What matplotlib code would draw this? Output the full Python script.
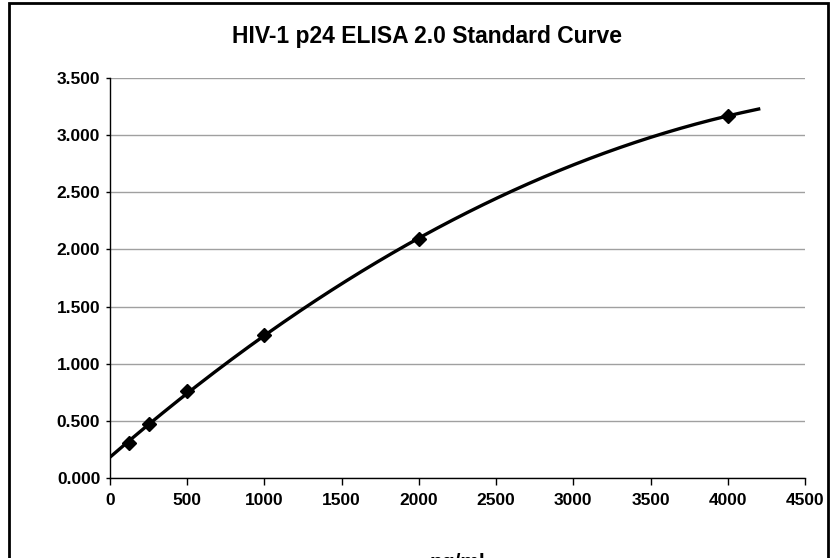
import numpy as np
import matplotlib
matplotlib.use('Agg')
import matplotlib.pyplot as plt
from matplotlib.patches import Rectangle

plt.rcParams['font.family'] = ['Liberation Sans', 'DejaVu Sans']

conc = [125, 250, 500, 1000, 2000, 4000]   # pg/ml
od = [0.31, 0.47, 0.76, 1.25, 2.09, 3.17]
x_ticks = [0, 500, 1000, 1500, 2000, 2500, 3000, 3500, 4000, 4500]
y_ticks = [0.0, 0.5, 1.0, 1.5, 2.0, 2.5, 3.0, 3.5]

# polynomial trendline (order 2) like the spreadsheet one, forecast forward a bit
coef = np.polyfit(conc, od, 2)
xs = np.linspace(0, 4200, 300)
ys = np.polyval(coef, xs)

fig = plt.figure(figsize=(8.36, 5.58), dpi=100)
ax = fig.add_axes([110/836, 1 - 478/558, 695/836, 400/558])

ax.plot(xs, ys, color='black', lw=2.4, zorder=3)
ax.plot(conc, od, 'D', color='black', markersize=7.5, zorder=4)

ax.set_xlim(0, 4500)
ax.set_ylim(0, 3.5)
ax.set_xticks(x_ticks)
ax.set_yticks(y_ticks)
ax.set_yticklabels(['%.3f' % v for v in y_ticks])
ax.tick_params(axis='both', labelsize=12.5, direction='out', width=1)
ax.tick_params(axis='x', length=5, pad=6)
ax.tick_params(axis='y', length=3, pad=4)
for lbl in ax.get_xticklabels() + ax.get_yticklabels():
    lbl.set_fontweight('bold')

ax.yaxis.grid(True, color='#a0a0a0', lw=1)
ax.set_axisbelow(True)
for s in ['top', 'right']:
    ax.spines[s].set_visible(False)
for s in ['left', 'bottom']:
    ax.spines[s].set_linewidth(1)

fig.text(0.5 + 9/836, 1 - 36/558, 'HIV-1 p24 ELISA 2.0 Standard Curve',
         ha='center', va='center', fontsize=16.5, fontweight='bold')
fig.text(457/836, 1 - 563/558, 'pg/ml', ha='center', va='center',
         fontsize=15, fontweight='bold')

# outer chart border (bottom edge falls outside the image)
fig.patches.append(Rectangle((9/836, -0.2), 819/836, 1.2 - 3/558,
                             transform=fig.transFigure, fill=False,
                             edgecolor='black', lw=2))

fig.savefig('out.png', dpi=100)
